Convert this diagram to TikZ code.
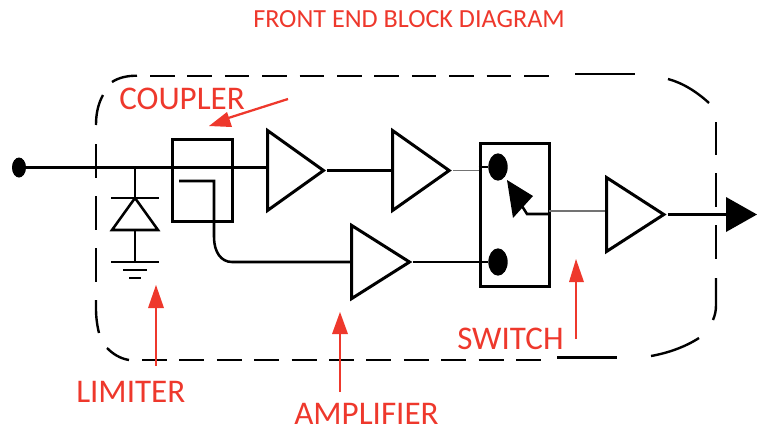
\documentclass[tikz,border=0pt]{standalone}
\usepackage{fontspec}
\setmainfont{Carlito}
\usetikzlibrary{shapes.geometric}
\definecolor{anno}{RGB}{238,56,44}
\tikzset{
  wire/.style={line width=1.9pt,black},
  thinwire/.style={line width=1pt,black!55},
  blockbox/.style={draw,line width=2.25pt,inner sep=0pt},
  amp/.style={draw,line width=2.25pt,isosceles triangle,isosceles triangle stretches=true,
    inner sep=0pt,anchor=lower side},
  frameline/.style={line width=1.8pt,black},
  annoline/.style={line width=1.7pt,anno},
  annohead/.style={fill=anno,draw=none},
  annotext/.style={text=anno,inner sep=0pt,anchor=base west,font=\fontsize{24.8pt}{28pt}\selectfont},
  dotnode/.style={ellipse,fill=black,inner sep=0pt}
}
\begin{document}
\begin{tikzpicture}[x=0.75pt,y=-0.75pt]
\useasboundingbox (0,0) rectangle (757,433);

% dashed frame
\foreach \s in {150,187.4,224.8,262.2,299.6,337,374.4,411.8,449.2,486.6,524}
  \draw[frameline] (\s,75.7) -- (\s+24.6,75.7);
\foreach \s in {142,179.4,216.8,254.2,291.6,329,366.4,403.8,441.2,478.6,516}
  \draw[frameline] (\s,360) -- (\s+25,360);
\draw[frameline] (575,74.2) -- (635,74.2);
\draw[frameline] (557,357.5) -- (617,357.5);
\foreach \s/\e in {144/178,196/230,248/282} \draw[frameline] (96,\s) -- (96,\e);
\foreach \s/\e in {122/155,173/207,225/259} \draw[frameline] (716,\s) -- (716,\e);
\draw[frameline] (112,82) .. controls (119,77.5) and (127,75.7) .. (137,75.7);
\draw[frameline] (103,95) .. controls (98,104) and (96,114) .. (96,125);
\draw[frameline] (668,79) .. controls (683,83) and (697,92) .. (709,103);
\draw[frameline] (716,278) -- (716,305) .. controls (716,311) and (715,315) .. (713,320);
\draw[frameline] (699,338) .. controls (685,347) and (668,353) .. (651,356);
\draw[frameline] (96,300) -- (96,308) .. controls (96,317) and (97,325) .. (99,333);
\draw[frameline] (107,348) .. controls (113,354) and (120,358.5) .. (129,360);

% blocks
\node[blockbox,minimum width=45pt,minimum height=62.2pt] (coupler) at (202,180.5) {};
\node[blockbox,minimum width=51.75pt,minimum height=107.25pt] (switch) at (514.5,214.5) {};
\node[amp,minimum width=60pt,minimum height=42pt] (a1) at (266,170.5) {};
\node[amp,minimum width=60pt,minimum height=42.5pt] (a2) at (391,170.5) {};
\node[amp,minimum width=55pt,minimum height=43.5pt] (a3) at (350,262) {};
\node[amp,minimum width=55.5pt,minimum height=43pt] (a4) at (605,214.5) {};

\node[dotnode,minimum width=10.5pt,minimum height=15pt] (in) at (19,167.5) {};
\node[dotnode,minimum width=14.5pt,minimum height=20.5pt] (sw1) at (498,167) {};
\node[dotnode,minimum width=14.5pt,minimum height=20.5pt] (sw2) at (498,262) {};

% main wires
\coordinate (diodetop) at (135,167.5);
\coordinate (a1in) at (266,167.5);
\draw[wire] (in) -- (a1in);
\draw[wire] (a1.apex) -- (a1.apex -| a2.lower side);
\draw[thinwire] (a2.apex) -- (a2.apex -| switch.west);
\draw[wire] (switch.west |- sw1) -- (sw1);
\coordinate (cstart) at (179,181);
\coordinate (cbend) at (214,181);
\draw[wire] (cstart) -- (cbend) -- (214,237) .. controls (214,252) and (221,262) .. (232,262) -- (a3.lower side);
\draw[wire] (a3.apex) -- (sw2);

% limiter
\coordinate (dtip) at (135,198);
\coordinate (dleft) at (112,230);
\coordinate (dright) at (158,230);
\coordinate (dbase) at (135,230);
\coordinate (gnd) at (135,262);
\draw[wire] (diodetop) -- (dtip);
\draw[wire] (111,198) -- (159,198);
\draw[wire,line join=miter] (dtip) -- (dright) -- (dleft) -- cycle;
\draw[wire] (dbase) -- (gnd);
\draw[wire] (111,262) -- (159,262);
\draw[wire] (123,270) -- (147,270);
\draw[wire] (129,278) -- (141,278);

% switch arm
\coordinate (armtip) at (507,180);
\coordinate (armknee) at (527,214);
\coordinate (swout) at (549,214);
\fill[black] (armtip) -- (533,196) -- (513,218) -- cycle;
\draw[wire] (522,206) -- (armknee) -- (swout);
\draw[thinwire] (549,211) -- (a4.lower side |- 0,211);

% output
\coordinate (outbase) at (726,214.5);
\draw[wire] (a4.apex) -- (outbase);
\fill[black] (726,197) -- (726,232) -- (757,214.5) -- cycle;

% annotations
\node[text=anno,inner sep=0pt,anchor=base west,font=\fontsize{19.6pt}{24pt}\selectfont] (title) at (253,27) {FRONT END BLOCK DIAGRAM};
\node[annotext] (lcoupler) at (119,109) {COUPLER};
\node[annotext] (llimiter) at (76,402) {LIMITER};
\node[annotext] (lamp) at (294,424.5) {AMPLIFIER};
\node[annotext] (lswitch) at (457,349) {SWITCH};

\draw[annoline] (288,99) -- (222,120);
\fill[annohead] (209,126) -- (227,112) -- (232,127) -- cycle;
\draw[annoline] (156,366) -- (156,305);
\fill[annohead] (156,285) -- (164,308) -- (148,308) -- cycle;
\draw[annoline] (340,392) -- (340,332);
\fill[annohead] (340,312) -- (348,334) -- (332,334) -- cycle;
\draw[annoline] (576,339) -- (576,280);
\fill[annohead] (576,259) -- (584,282) -- (569,282) -- cycle;
\end{tikzpicture}
\end{document}
